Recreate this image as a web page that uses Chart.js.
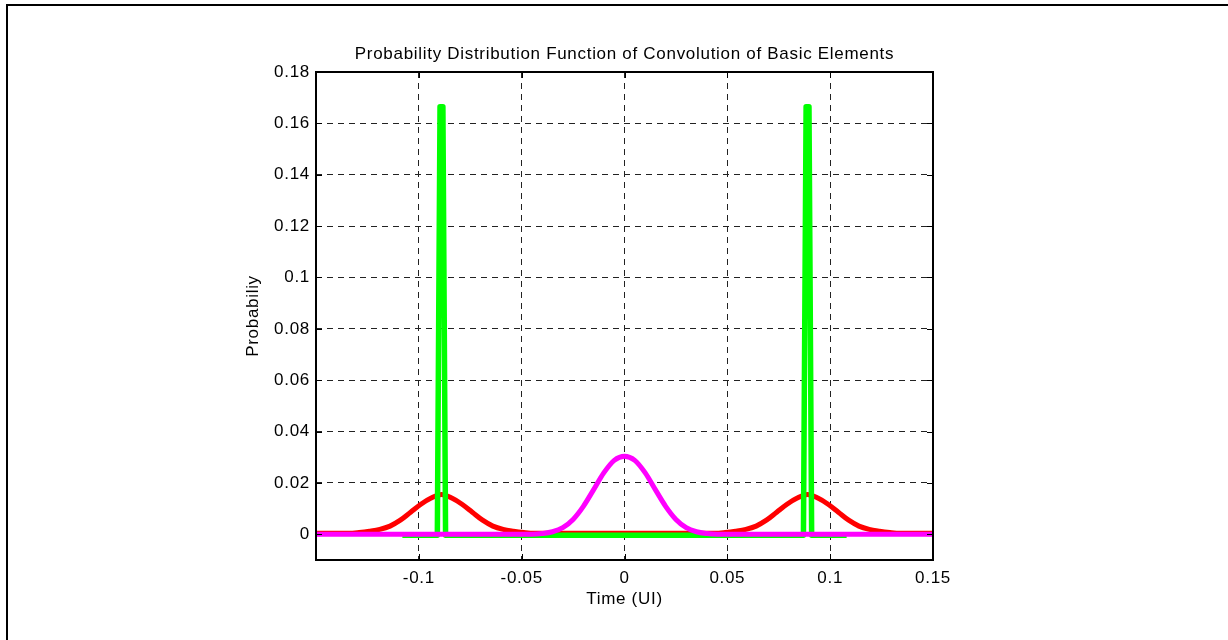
<!DOCTYPE html>
<html lang="en">
<head>
    <meta charset="UTF-8">
    <title>Probability Distribution Function of Convolution of Basic Elements</title>
    <script src="https://cdn.jsdelivr.net/npm/chart.js"></script>
    <style>
        html, body { margin: 0; padding: 0; background: #fff; overflow: hidden; }
        #wrap { position: relative; width: 1228px; height: 640px; overflow: hidden; }
        #frame { position: absolute; left: 6px; top: 4px; width: 1240px; height: 660px;
                 border-top: 2px solid #000; border-left: 2px solid #000; pointer-events: none; }
    </style>
</head>
<body>
    <div id="wrap">
        <canvas id="myChart" width="1228" height="640"></canvas>
        <div id="frame"></div>
    </div>

    <script>
        // tick labels
        const xTicks = [-0.1, -0.05, 0, 0.05, 0.1, 0.15];
        const yTicks = [0, 0.02, 0.04, 0.06, 0.08, 0.1, 0.12, 0.14, 0.16, 0.18];

        // red: two bumps around -0.089 and +0.089 (sits a hair above zero)
        const redX = [-0.15,
            -0.134, -0.129, -0.124, -0.119, -0.114, -0.109, -0.104, -0.099, -0.094, -0.089,
            -0.084, -0.079, -0.074, -0.069, -0.064, -0.059, -0.054, -0.049, -0.044,
            0.044, 0.049, 0.054, 0.059, 0.064, 0.069, 0.074, 0.079, 0.084, 0.089,
            0.094, 0.099, 0.104, 0.109, 0.114, 0.119, 0.124, 0.129, 0.134,
            0.15];
        const redY = [0.0004,
            0.0004, 0.0007, 0.0012, 0.0019, 0.0032, 0.0055, 0.0086, 0.0117, 0.0141, 0.0155,
            0.0141, 0.0117, 0.0086, 0.0055, 0.0032, 0.0019, 0.0012, 0.0007, 0.0004,
            0.0004, 0.0007, 0.0012, 0.0019, 0.0032, 0.0055, 0.0086, 0.0117, 0.0141, 0.0155,
            0.0141, 0.0117, 0.0086, 0.0055, 0.0032, 0.0019, 0.0012, 0.0007, 0.0004,
            0.0004];

        // green: narrow spikes
        const greenX = [-0.108, -0.0910, -0.0897, -0.0883, -0.0870, 0.0870, 0.0883, 0.0897, 0.0910, 0.108];
        const greenY = [-0.0004, -0.0004, 0.1665, 0.1665, -0.0004, -0.0004, 0.1665, 0.1665, -0.0004, -0.0004];

        // magenta: centre bump
        const magX = [-0.15, -0.045, -0.04, -0.035, -0.03, -0.025, -0.02, -0.015, -0.01, -0.005, 0,
            0.005, 0.01, 0.015, 0.02, 0.025, 0.03, 0.035, 0.04, 0.045, 0.15];
        const magY = [0, 0, 0.0003, 0.0010, 0.0026, 0.0058, 0.0109, 0.0174, 0.0240, 0.0288, 0.0304,
            0.0288, 0.0240, 0.0174, 0.0109, 0.0058, 0.0026, 0.0010, 0.0003, 0, 0];

        const pts = (xs, ys) => xs.map((x, i) => ({ x: x, y: ys[i] }));

        const font = { family: "'Liberation Sans', Arial, sans-serif", size: 17, weight: 'normal' };

        // matlab-style box with inward ticks
        const boxPlugin = {
            id: 'box',
            beforeDraw(chart) {
                chart.ctx.letterSpacing = '0.7px';
            },
            afterDatasetsDraw(chart) {
                const { ctx, chartArea: a } = chart;
                const sx = chart.scales.x, sy = chart.scales.y;
                ctx.save();
                ctx.strokeStyle = '#000';
                ctx.lineWidth = 1;
                ctx.beginPath();
                sx.ticks.forEach(t => {
                    const p = Math.round(sx.getPixelForValue(t.value)) + 0.5;
                    ctx.moveTo(p, a.bottom); ctx.lineTo(p, a.bottom - 6);
                    ctx.moveTo(p, a.top); ctx.lineTo(p, a.top + 6);
                });
                sy.ticks.forEach(t => {
                    const p = Math.round(sy.getPixelForValue(t.value)) + 0.5;
                    ctx.moveTo(a.left, p); ctx.lineTo(a.left + 6, p);
                    ctx.moveTo(a.right, p); ctx.lineTo(a.right - 6, p);
                });
                ctx.stroke();
                ctx.lineWidth = 2;
                ctx.strokeRect(a.left, a.top, a.right - a.left, a.bottom - a.top);
                ctx.restore();
            }
        };

        const ctx = document.getElementById('myChart').getContext('2d');
        const myChart = new Chart(ctx, {
            type: 'line',
            data: {
                datasets: [
                    {
                        label: 'red',
                        data: pts(redX, redY),
                        borderColor: '#ff0000',
                        borderWidth: 5,
                        cubicInterpolationMode: 'monotone',
                        order: 2
                    },
                    {
                        label: 'green',
                        data: pts(greenX, greenY),
                        borderColor: '#00ff00',
                        borderWidth: 5.5,
                        tension: 0,
                        order: 1
                    },
                    {
                        label: 'magenta',
                        data: pts(magX, magY),
                        borderColor: '#ff00ff',
                        borderWidth: 5,
                        cubicInterpolationMode: 'monotone',
                        order: 0
                    }
                ]
            },
            options: {
                responsive: false,
                animation: false,
                devicePixelRatio: 1,
                elements: {
                    point: { radius: 0 },
                    line: { fill: false, borderJoinStyle: 'round' }
                },
                layout: { padding: { left: 240, right: 295, top: 44, bottom: 20 } },
                plugins: {
                    legend: { display: false },
                    tooltip: { enabled: false },
                    title: {
                        display: true,
                        fullSize: false,
                        text: 'Probability Distribution Function of Convolution of Basic Elements',
                        color: '#000',
                        font: font,
                        padding: { top: 0, bottom: 7.6 }
                    }
                },
                scales: {
                    x: {
                        type: 'linear',
                        min: -0.15,
                        max: 0.15,
                        afterBuildTicks: s => { s.ticks = xTicks.map(v => ({ value: v })); },
                        afterFit: s => { s.height = 60; },
                        grid: { color: '#222', lineWidth: 1, drawTicks: false },
                        border: { display: false, dash: [6, 5] },
                        ticks: { color: '#000', font: font, padding: 8, maxRotation: 0, autoSkip: false,
                                 callback: v => String(v) },
                        title: { display: true, text: 'Time (UI)', color: '#000', font: font,
                                 padding: { top: 0, bottom: 10.8 } }
                    },
                    y: {
                        type: 'linear',
                        min: -0.01,
                        max: 0.18,
                        afterBuildTicks: s => { s.ticks = yTicks.map(v => ({ value: v })); },
                        afterFit: s => { s.width = 76; },
                        grid: { color: '#222', lineWidth: 1, drawTicks: false },
                        border: { display: false, dash: [6, 5] },
                        ticks: { color: '#000', font: font, padding: 6, autoSkip: false,
                                 callback: v => String(v) },
                        title: { display: true, text: 'Probabiliy', color: '#000', font: font,
                                 padding: { top: 3, bottom: 0 } }
                    }
                }
            },
            plugins: [boxPlugin]
        });
    </script>
</body>
</html>
